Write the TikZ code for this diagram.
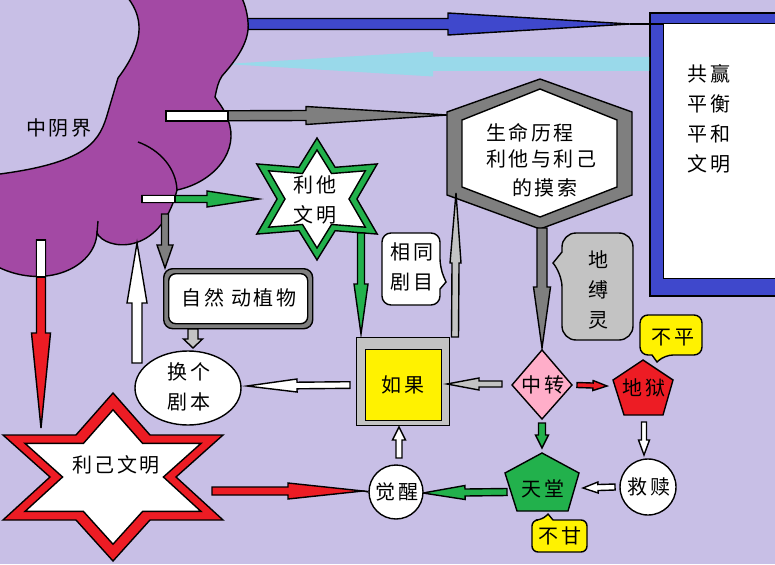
\documentclass[tikz,border=0pt]{standalone}
\usepackage{fontspec}
\newfontfamily\cjk[LetterSpace=13]{Noto Sans CJK SC}
\usetikzlibrary{calc,shapes.geometric}
\definecolor{bgc}{RGB}{200,191,230}
\definecolor{cloudc}{RGB}{163,73,164}
\definecolor{bluec}{RGB}{63,72,204}
\definecolor{cyanc}{RGB}{153,217,234}
\definecolor{dgray}{RGB}{127,127,127}
\definecolor{lgray}{RGB}{195,195,195}
\definecolor{greenc}{RGB}{34,177,76}
\definecolor{redc}{RGB}{237,28,36}
\definecolor{yellowc}{RGB}{255,242,0}
\definecolor{pinkc}{RGB}{255,174,201}
\tikzset{
 ol/.style={draw=black, line width=1.4pt},
 lbl/.style={font=\cjk\fontsize{20}{30}\selectfont, align=center, inner sep=0pt},
}
% #1 style, #2 fill, #3 from, #4 to, #5 shaft half width, #6 head half width, #7 head length
\newcommand\blockarrow[7][ol]{%
 \coordinate (bah) at ($(#4)!#7!(#3)$);
 \path[#1, fill=#2] ($(#3)!#5!90:(#4)$) -- ($(bah)!#5!90:(#4)$) -- ($(bah)!#6!90:(#4)$) -- (#4) -- ($(bah)!#6!-90:(#4)$) -- ($(bah)!#5!-90:(#4)$) -- ($(#3)!#5!-90:(#4)$) -- cycle;
}
\begin{document}
\begin{tikzpicture}[x=1pt,y=-1pt]
\path[use as bounding box] (0,0) rectangle (775,564);
\clip (0,0) rectangle (775,564);
\fill[bgc] (0,0) rectangle (775,564);

% right window
\node (win) [ol, line width=1.6pt, fill=bluec, minimum width=151pt, minimum height=283pt, anchor=north west, inner sep=0pt] at (649,12) {};
\node (wint) [ol, fill=white, minimum width=127pt, minimum height=255pt, anchor=north west, inner sep=0pt] at (663,23) {};
\node[lbl] (wtext) at (709,119) {共赢\\平衡\\平和\\文明};

% blue and cyan arrows
\coordinate (b1) at (244,24);
\coordinate (b2) at (630,24);
\blockarrow{bluec}{b1}{b2}{5.5pt}{11pt}{182pt}
\draw[line width=1.3pt] (b2) -- (wint.west |- b2);
\coordinate (c1) at (649,64);
\coordinate (c2) at (226,64);
\blockarrow[draw=none]{cyanc}{c1}{c2}{7pt}{12.5pt}{207pt}

% cloud
\draw[ol, fill=cloudc] (128,-2) .. controls (145,20) and (143,45) .. (118,78) -- (108,112)
  .. controls (100,140) and (90,162) .. (0,174) -- (-2,174) -- (-2,267)
  .. controls (45,290) and (95,268) .. (97,233)
  .. controls (105,250) and (160,258) .. (177,190)
  .. controls (215,182) and (240,150) .. (228,120)
  .. controls (224,108) and (218,102) .. (215,97)
  .. controls (217,88) and (218,82) .. (222,76)
  .. controls (238,58) and (250,40) .. (248,22)
  .. controls (247,10) and (244,3) .. (242,-2) -- cycle;
\draw[ol] (138,142) .. controls (160,150) and (176,168) .. (177,190);
\draw[ol] (97,233) -- (98,221);
\node[lbl] (zyj) at (59,128) {中阴界};

% gray arrow cloud -> hexagon
\coordinate (g1) at (166,116);
\coordinate (g2) at (447,115);
\blockarrow{dgray}{g1}{g2}{5pt}{9pt}{141pt}
\filldraw[ol, fill=white] (166,111) rectangle (228,121);

% hexagon
\draw[ol, fill=dgray] (447,112) -- (540,79) -- (632,112) -- (632,195) -- (540,229) -- (447,195) -- cycle;
\draw[ol, fill=white] (462,120) -- (540,89) -- (617,120) -- (617,187) -- (540,217) -- (462,187) -- cycle;
\node[lbl, anchor=west] (h1) at (486,133) {生命历程};
\node[lbl, anchor=west] (h2) at (486,159) {利他与利己};
\node[lbl] (h3) at (545,188) {的摸索};
\coordinate (hexbot) at (542,228);

% green star
\begin{scope}[shift={(317,199)}, xscale=60.5, yscale=61]
 \draw[ol, fill=greenc] (90:1) -- (60:0.6) -- (30:1.15) -- (0:0.66) -- (-30:1.15) -- (-60:0.6) -- (-90:1) -- (-120:0.6) -- (-150:1.15) -- (180:0.66) -- (150:1.15) -- (120:0.6) -- cycle;
\end{scope}
\begin{scope}[shift={(317,199)}, xscale=48.5, yscale=49]
 \draw[ol, fill=white] (90:1) -- (60:0.6) -- (30:1.15) -- (0:0.66) -- (-30:1.15) -- (-60:0.6) -- (-90:1) -- (-120:0.6) -- (-150:1.15) -- (180:0.66) -- (150:1.15) -- (120:0.6) -- cycle;
\end{scope}
\node[lbl] (ltwm) at (315,200) {利他\\文明};

% green arrow cloud -> star
\coordinate (gr1) at (142,199);
\coordinate (gr2) at (259,199);
\blockarrow{greenc}{gr1}{gr2}{3.5pt}{8pt}{52pt}
\filldraw[ol, fill=white] (142,195.5) rectangle (175,202.5);

% gray arrow down to nature box
\coordinate (gd1) at (165,214);
\coordinate (gd2) at (165,268);
\blockarrow{dgray}{gd1}{gd2}{3.5pt}{8pt}{23pt}

% white arrow up into cloud
\coordinate (wu1) at (137,363);
\coordinate (wu2) at (137,243);
\blockarrow{white}{wu1}{wu2}{5pt}{10pt}{60pt}

% red arrow down
\coordinate (r1) at (41,240);
\coordinate (r2) at (41,428);
\blockarrow{redc}{r1}{r2}{4.5pt}{9.5pt}{95pt}
\filldraw[ol, fill=white] (36.5,240) rectangle (45.5,277);

% nature box
\node (nat) [ol, fill=dgray, rounded corners=9pt, minimum width=149pt, minimum height=60pt, anchor=north west, inner sep=0pt] at (163,268) {};
\node (natin) [ol, fill=white, rounded corners=7pt, minimum width=139pt, minimum height=50pt, anchor=north west, inner sep=0pt] at (168,273) {};
\node[lbl] (natt) at (239,298) {自然 动植物};

% small gray arrow down to ellipse
\coordinate (sg1) at (193,329);
\coordinate (sg2) at (193,348);
\blockarrow{lgray}{sg1}{sg2}{5pt}{9.5pt}{9pt}

% ellipse
\node (hgjb) [ellipse, ol, fill=white, minimum width=106pt, minimum height=74pt, inner sep=0pt] at (188,388) {};
\node[lbl] at (189,387) {换个\\剧本};

% callout 相同剧目
\draw[ol, fill=white] [rounded corners=9pt] (382,233) -- (440,233) -- (440,268) [sharp corners] -- (446,282) -- (440,289) [rounded corners=9pt] -- (440,305) -- (382,305) -- cycle;
\node[lbl] (xtjm) at (412,267) {相同\\剧目};

% green arrow down to 如果
\coordinate (gs1) at (361,233);
\coordinate (gs2) at (361,334);
\blockarrow{greenc}{gs1}{gs2}{3.5pt}{7pt}{50pt}

% 如果 box
\node (rg) [ol, fill=lgray, minimum width=93pt, minimum height=88pt, anchor=north west, inner sep=0pt] at (356,337) {};
\node (rgin) [ol, fill=yellowc, minimum width=76pt, minimum height=71pt, anchor=north west, inner sep=0pt] at (365,349) {};
\node[lbl] (rgt) at (403,385) {如果};

% gray arrow up to hexagon
\coordinate (gu1) at (455,337);
\coordinate (gu2) at (456,193);
\blockarrow{lgray}{gu1}{gu2}{3.5pt}{5.5pt}{70pt}

% white arrow 如果 -> ellipse
\coordinate (wl1) at (350,385);
\coordinate (wl2) at (247,386);
\blockarrow{white}{wl1}{wl2}{3.3pt}{6.5pt}{50pt}

% dark gray arrow hexagon -> 中转
\blockarrow{dgray}{hexbot}{542,348}{5pt}{8.5pt}{61pt}

% 地缚灵 callout
\draw[ol, fill=lgray] [rounded corners=14pt] (562,252) -- (562,233) -- (633,233) -- (633,340) -- (562,340) -- (562,273) [sharp corners] -- (553,263) -- cycle;
\node[lbl] (dfl) at (598,290) {地\\缚\\灵};

% diamond 中转
\draw[ol, fill=pinkc] (512,385) -- (542,350) -- (572,385) -- (542,419) -- cycle;
\node[lbl] (zz) at (543,385) {中转};

% arrows around 中转
\coordinate (zl1) at (502,384);
\coordinate (zl2) at (447,384);
\blockarrow{lgray}{zl1}{zl2}{3pt}{6pt}{32pt}
\coordinate (zr1) at (577,385);
\coordinate (zr2) at (607,386);
\blockarrow{redc}{zr1}{zr2}{2.5pt}{5pt}{14pt}
\coordinate (zd1) at (542,423);
\coordinate (zd2) at (542,448);
\blockarrow{greenc}{zd1}{zd2}{3.5pt}{6.5pt}{13pt}

% 地狱
\draw[ol, fill=redc] (643,360) -- (673,380) -- (663,415) -- (624,415) -- (613,380) -- cycle;
\node[lbl] (dy) at (644,388) {地狱};
% 不平
\draw[ol, fill=yellowc] [rounded corners=8pt] (652,355) -- (640,355) -- (640,315) -- (702,315) -- (702,355) -- (665,355) [sharp corners] -- (657,362) -- cycle;
\node[lbl] (bp) at (673,338) {不平};

% 地狱 -> 救赎
\coordinate (dd1) at (644,422);
\coordinate (dd2) at (644,455);
\blockarrow{white}{dd1}{dd2}{2.5pt}{5.5pt}{15pt}

% 救赎
\node (js) [circle, ol, fill=white, minimum size=56pt, inner sep=0pt] at (648,487) {};
\node[lbl] at (649,487) {救赎};

% 救赎 -> 天堂
\coordinate (jl1) at (615,487);
\coordinate (jl2) at (583,488);
\blockarrow{white}{jl1}{jl2}{3pt}{5.5pt}{15pt}

% 天堂
\draw[ol, fill=greenc] (542,453) -- (579,473) -- (568,511) -- (517,511) -- (505,473) -- cycle;
\node[lbl] (tt) at (543,489) {天堂};
% 不甘
\draw[ol, fill=yellowc] [rounded corners=6pt] (553,520) -- (587,520) -- (587,552) -- (532,552) -- (532,520) -- (542,520) [sharp corners] -- (548,514) -- cycle;
\node[lbl] (bg) at (560,536) {不甘};

% 天堂 -> 觉醒
\coordinate (tl1) at (507,492);
\coordinate (tl2) at (423,493);
\blockarrow{greenc}{tl1}{tl2}{3.5pt}{7pt}{42pt}

% 觉醒
\node (jx) [circle, ol, fill=white, minimum size=54pt, inner sep=0pt] at (396,492) {};
\node[lbl] at (397,492) {觉醒};

% 觉醒 -> 如果
\coordinate (ju1) at (399,458);
\coordinate (ju2) at (399,427);
\blockarrow{white}{ju1}{ju2}{3pt}{6.5pt}{13pt}

% red star
\draw[ol, fill=redc] (113,393) -- (150,435) -- (223,435) -- (176,477) -- (223,520) -- (150,520) -- (113,561) -- (76,520) -- (3,520) -- (50,477) -- (3,435) -- (76,435) -- cycle;
\begin{scope}[shift={(113,477)}, scale=0.8, shift={(-113,-477)}]
\draw[ol, fill=white] (113,393) -- (150,435) -- (223,435) -- (176,477) -- (223,520) -- (150,520) -- (113,561) -- (76,520) -- (3,520) -- (50,477) -- (3,435) -- (76,435) -- cycle;
\end{scope}
\node[lbl] (ljwm) at (116,465) {利己文明};

% red star -> 觉醒
\coordinate (rr1) at (212,491);
\coordinate (rr2) at (363,491);
\blockarrow{redc}{rr1}{rr2}{4pt}{8pt}{75pt}
\draw[line width=1.3pt] (rr2) -- (jx.west);
\end{tikzpicture}
\end{document}
